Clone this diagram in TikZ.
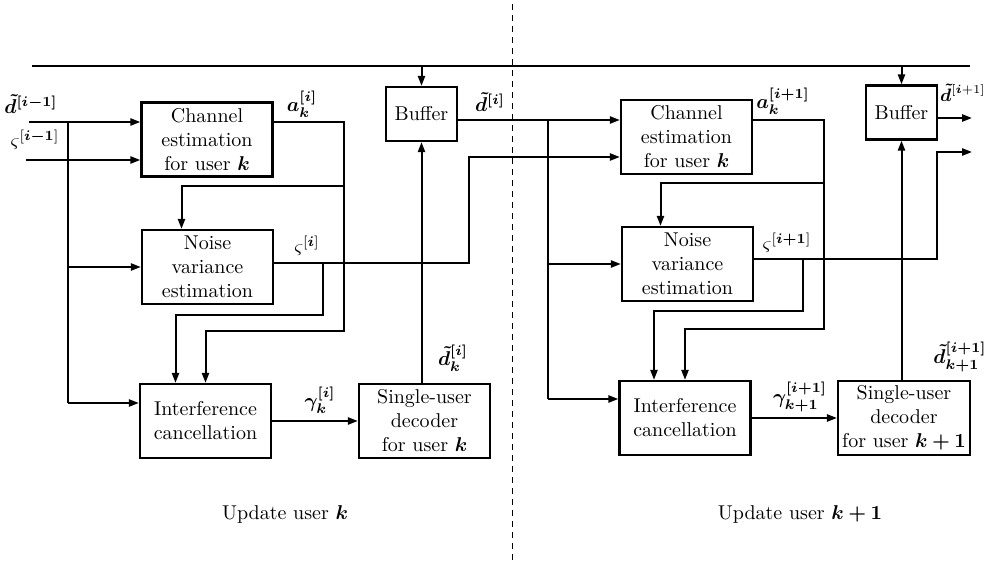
\documentclass[tikz,border=0pt]{standalone}
\usepackage{amsmath}
\usepackage{bm}
\usetikzlibrary{positioning,arrows.meta,calc}

\begin{document}
\begin{tikzpicture}[x=0.5pt, y=-0.5pt,
  blk/.style={draw, line width=1.2pt, align=center, minimum width=65.5pt,
              minimum height=37pt, inner sep=2pt},
  buf/.style={draw, line width=1.2pt, minimum width=35.5pt,
              minimum height=27pt, inner sep=2pt},
  lbl/.style={inner sep=0pt},
  wire/.style={line width=1pt},
  arr/.style={wire, -{Triangle[length=5pt, width=3.6pt]}}]
\useasboundingbox (0,0) rectangle (986,561);
% divider between the two updates
\coordinate (divT) at (512,4);
\coordinate (divB) at (512,561);
\draw[line width=0.5pt, dash pattern=on 3pt off 2.5pt] (divT) -- (divB);
% blocks, update user k
\node[blk] (ch1) at (207,139.5) {Channel\\estimation\\for user $\bm k$};
\node[blk] (no1) at (207.5,267) {Noise\\variance\\estimation};
\node[blk] (ic1) at (205.5,421) {Interference\\cancellation};
\node[blk] (de1) at (424.5,421) {Single-user\\decoder\\for user $\bm k$};
\node[buf] (bu1) at (421.5,114) {Buffer};
% blocks, update user k+1
\node[blk] (ch2) at (686.5,137) {Channel\\estimation\\for user $\bm k$};
\node[blk] (no2) at (687.5,264) {Noise\\variance\\estimation};
\node[blk] (ic2) at (685,418) {Interference\\cancellation};
\node[blk] (de2) at (904,418) {Single-user\\decoder\\for user $\bm{k+1}$};
\node[buf] (bu2) at (901.5,112.5) {Buffer};
% top bus
\coordinate (busL) at (32,66);
\coordinate (busR) at (970,66);
\draw[line width=1.3pt] (busL) -- (busR);
\draw[arr] (bu1.north |- busL) -- (bu1.north);
\draw[arr] (bu2.north |- busL) -- (bu2.north);
% inputs
\coordinate (in1) at (29,122);
\coordinate (in2) at (26,160);
\draw[arr] (in1) -- (ch1.west |- in1);
\draw[arr] (in2) -- (ch1.west |- in2);
\coordinate (j1) at (68,122);
\coordinate (j1b) at (68,403);
\draw[wire] (j1) -- (j1b);
\draw[arr] (j1 |- no1.west) -- (no1.west);
\draw[arr] (j1b) -- (ic1.west |- j1b);
% channel estimate, user k
\coordinate (a1) at (344,122);
\coordinate (a1j) at (344,186);
\coordinate (a1b) at (344,331);
\draw[arr] (ch1.east |- a1) -- (a1) -- (a1b) -| (ic1.north);
\draw[arr] (a1j) -| ($(no1.north)+(-26,0)$);
% noise variance, user k
\coordinate (s1) at (469,263);
\coordinate (s1t) at (469,157);
\coordinate (s1j) at (323,263);
\coordinate (s1b) at (323,315);
\draw[arr] (no1.east |- s1) -- (s1) -- (s1t) -- (ch2.west |- s1t);
\draw[arr] (s1j) -- (s1b) -| ($(ic1.north)+(-30,0)$);
\draw[arr] (ic1) -- (de1);
\draw[arr] (de1.north -| bu1) -- (bu1.south);
% buffer output, user k
\coordinate (b1) at (548,120);
\coordinate (b1b) at (548,399);
\draw[arr] (bu1.east |- b1) -- (ch2.west |- b1);
\draw[wire] (b1) -- (b1b);
\draw[arr] (b1 |- no2.west) -- (no2.west);
\draw[arr] (b1b) -- (ic2.west |- b1b);
% channel estimate, user k+1
\coordinate (a2) at (824,120);
\coordinate (a2j) at (824,183);
\coordinate (a2b) at (824,329);
\draw[arr] (ch2.east |- a2) -- (a2) -- (a2b) -| (ic2.north);
\draw[arr] (a2j) -| ($(no2.north)+(-27,0)$);
% noise variance, user k+1
\coordinate (s2) at (937,259);
\coordinate (s2t) at (937,152);
\coordinate (o2) at (972,152);
\coordinate (s2j) at (803,259);
\coordinate (s2b) at (803,311);
\draw[arr] (no2.east |- s2) -- (s2) -- (s2t) -- (o2);
\draw[arr] (s2j) -- (s2b) -| ($(ic2.north)+(-31,0)$);
\draw[arr] (ic2) -- (de2);
\draw[arr] (de2.north -| bu2) -- (bu2.south);
\coordinate (o1) at (972,118);
\draw[arr] (bu2.east |- o1) -- (o1);
% signal labels
\node[lbl] (l1) at (31,104) {$\bm{\tilde d^{[i-1]}}$};
\node[lbl] (l2) at (35,140) {$\varsigma^{[\bm{i-1}]}$};
\node[lbl] (l3) at (302,104) {$\bm{a_k^{[i]}}$};
\node[lbl] (l4) at (490,102) {$\bm{\tilde d^{[i]}}$};
\node[lbl] (l5) at (307,246) {$\varsigma^{[\bm i]}$};
\node[lbl] (l6) at (320,400) {$\bm{\gamma_k^{[i]}}$};
\node[lbl] (l7) at (453,358) {$\bm{\tilde d_k^{[i]}}$};
\node[lbl] (l8) at (783,101) {$\bm{a_k^{[i+1]}}$};
\node[lbl, anchor=east, font=\small] (l9) at (986,93) {$\bm{\tilde d}^{[\bm i+1]}$};
\node[lbl] (l10) at (787,243) {$\varsigma^{[\bm{i+1}]}$};
\node[lbl] (l11) at (800,397) {$\bm{\gamma_{k+1}^{[i+1]}}$};
\node[lbl] (l12) at (960,357) {$\bm{\tilde d_{k+1}^{[i+1]}}$};
% captions
\node (capk) at (285,514) {Update user $\bm k$};
\node (capk1) at (800,514) {Update user $\bm{k+1}$};
\end{tikzpicture}
\end{document}
